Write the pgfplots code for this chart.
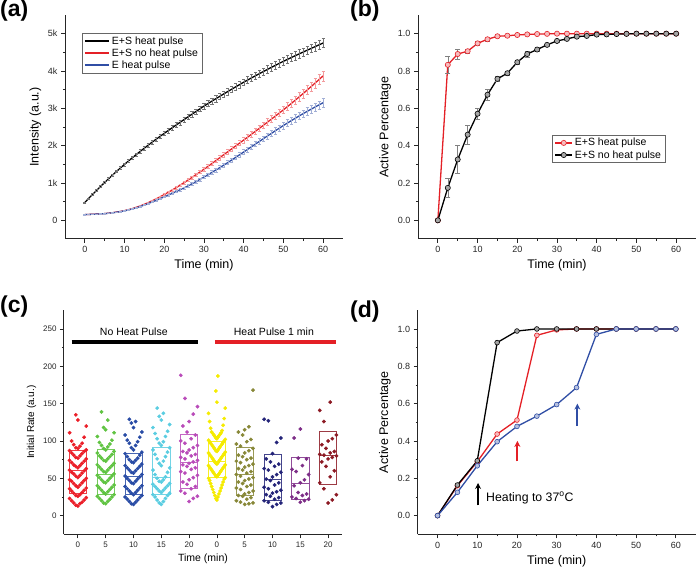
\documentclass[border=0pt]{standalone}
\usepackage{fontspec}
\setmainfont{Liberation Sans}
\usepackage{pgfplots}
\pgfplotsset{compat=1.18}
\usepackage{pgfplotstable}
\usetikzlibrary{arrows.meta}

\definecolor{cR}{RGB}{228,32,38}
\definecolor{cB}{RGB}{48,78,165}
% panel (c) groups
\definecolor{c1}{RGB}{235,30,40}
\definecolor{c2}{RGB}{95,195,65}
\definecolor{c3}{RGB}{40,75,165}
\definecolor{c4}{RGB}{90,205,225}
\definecolor{c5}{RGB}{185,75,185}
\definecolor{c6}{RGB}{245,235,0}
\definecolor{c7}{RGB}{135,135,55}
\definecolor{c8}{RGB}{35,35,120}
\definecolor{c9}{RGB}{125,45,135}
\definecolor{c10}{RGB}{140,25,35}

\pgfplotsset{
  orig/.style={
    scale only axis, width=278pt, height=224pt, anchor=south west,
    axis x line*=bottom, axis y line*=left,
    axis line style={-, line width=1pt, black!85},
    tick align=outside, major tick length=4pt, minor tick length=2.2pt,
    tick style={line width=0.8pt, black!85},
    tick label style={font=\fontsize{9}{10}\selectfont, text=black!85},
    label style={font=\fontsize{12.5}{14}\selectfont},
    /pgf/number format/assume math mode=true,
    legend cell align=left,
    legend style={draw=black!60, line width=0.6pt, font=\fontsize{10.5}{12}\selectfont,
      inner xsep=2pt, inner ysep=1pt, row sep=-1pt},
  },
  % beeswarm layout: category, index step, points per chevron, colour
  swarm/.style n args={4}{only marks, mark=*, mark size=1.7pt, color=#4,
    table/x expr={#1+(0.3/((#3-1)/2))*ceil(mod(\coordindex*#2,#3)/2)*(1-2*mod(mod(\coordindex*#2,#3),2))},
    table/y index=0, table/header=false},
  bx/.style={line width=0.7pt, mark=none},
}

% intensity traces, panel (a)
\pgfplotstableread{
t hp nhp e
0 480 155 155
1 591 158 158
2 700 162 162
3 807 167 167
4 912 173 173
5 1015 180 180
6 1116 191 190
7 1215 205 203
8 1312 221 218
9 1407 239 235
10 1500 260 255
11 1591 286 279
12 1680 316 307
13 1767 350 338
14 1852 388 372
15 1935 430 410
16 2017 476 451
17 2098 526 494
18 2177 578 538
19 2254 633 583
20 2330 690 630
21 2405 750 676
22 2479 812 723
23 2553 876 771
24 2626 942 820
25 2699 1010 870
26 2772 1080 924
27 2844 1151 980
28 2916 1223 1038
29 2988 1296 1098
30 3060 1370 1160
31 3127 1446 1222
32 3193 1523 1285
33 3258 1601 1349
34 3323 1680 1414
35 3387 1760 1480
36 3451 1838 1548
37 3514 1916 1617
38 3576 1994 1687
39 3638 2072 1758
40 3700 2150 1830
41 3759 2229 1902
42 3817 2309 1974
43 3875 2389 2046
44 3932 2469 2118
45 3988 2550 2190
46 4044 2631 2261
47 4099 2713 2331
48 4153 2795 2401
49 4207 2877 2471
50 4260 2960 2540
51 4311 3045 2606
52 4361 3132 2671
53 4411 3220 2735
54 4460 3309 2798
55 4509 3400 2860
56 4558 3492 2920
57 4606 3585 2979
58 4654 3679 3037
59 4702 3774 3094
60 4750 3870 3150
}\dataA

\begin{document}
\begin{tikzpicture}
\useasboundingbox (0pt,0pt) rectangle (697pt,570pt);

\node[anchor=base west, inner sep=0pt, font=\bfseries\fontsize{23}{26}\selectfont] at (0pt,553pt) {(a)};
\node[anchor=base west, inner sep=0pt, font=\bfseries\fontsize{23}{26}\selectfont] at (350pt,553pt) {(b)};
\node[anchor=base west, inner sep=0pt, font=\bfseries\fontsize{23}{26}\selectfont] at (0pt,257pt) {(c)};
\node[anchor=base west, inner sep=0pt, font=\bfseries\fontsize{23}{26}\selectfont] at (350pt,252pt) {(d)};

% ---------------- (a)
\begin{axis}[orig, at={(65pt,331pt)},
  xmin=-5, xmax=65, ymin=-500, ymax=5500,
  xtick={0,10,...,60}, minor x tick num=1,
  ytick={0,1000,2000,3000,4000,5000}, yticklabels={0,1k,2k,3k,4k,5k},
  minor y tick num=1, scaled y ticks=false,
  xlabel={Time (min)}, ylabel={Intensity (a.u.)},
  legend style={at={(0.06,0.918)}, anchor=north west},
  legend image code/.code={\draw[#1, line width=2pt] (0pt,0pt) -- (24pt,0pt);},
]
\addplot[black, line width=1.3pt, error bars/.cd, y dir=both, y fixed relative=0.025,
  error bar style={black!55, line width=0.4pt},
  error mark options={rotate=90, mark size=1.6pt, black!55, line width=0.4pt}]
  table[x=t, y=hp] {\dataA};
\addlegendentry{E+S heat pulse}
\addplot[cR, line width=1.3pt, error bars/.cd, y dir=both, y fixed relative=0.035,
  error bar style={cR!45, line width=0.4pt},
  error mark options={rotate=90, mark size=1.6pt, cR!45, line width=0.4pt}]
  table[x=t, y=nhp] {\dataA};
\addlegendentry{E+S no heat pulse}
\addplot[cB, line width=1.3pt, error bars/.cd, y dir=both, y fixed relative=0.035,
  error bar style={cB!45, line width=0.4pt},
  error mark options={rotate=90, mark size=1.6pt, cB!45, line width=0.4pt}]
  table[x=t, y=e] {\dataA};
\addlegendentry{E heat pulse}
\end{axis}

% ---------------- (b)
\begin{axis}[orig, at={(418pt,331pt)},
  xmin=-5, xmax=65, ymin=-0.1, ymax=1.1,
  xtick={0,10,...,60}, minor x tick num=1,
  ytick={0,0.2,0.4,0.6,0.8,1}, minor y tick num=1,
  yticklabel style={/pgf/number format/.cd, fixed, fixed zerofill, precision=1},
  xlabel={Time (min)}, ylabel={Active Percentage},
  legend style={at={(0.483,0.464)}, anchor=north west},
]
\addplot[cR, line width=1.3pt, mark=*, mark size=2.6pt, mark options={fill=cR!30, line width=0.6pt},
  error bars/.cd, y dir=both, y explicit, error bar style={gray, line width=0.5pt},
  error mark options={rotate=90, mark size=2.5pt, gray, line width=0.5pt}]
  coordinates {
  (0,0) +- (0,0) (2.5,0.833) +- (0,0.045) (5,0.891) +- (0,0.028) (7.5,0.906) +- (0,0.012)
  (10,0.948) +- (0,0.01) (12.5,0.970) +- (0,0.008) (15,0.986) +- (0,0.006) (17.5,0.989) +- (0,0.005)
  (20,0.993) +- (0,0.004) (22.5,0.996) +- (0,0.003) (25,0.998) +- (0,0.002) (27.5,0.999) +- (0,0.001)
  (30,1) +- (0,0) (32.5,1) +- (0,0) (35,1) +- (0,0) (37.5,1) +- (0,0) (40,1) +- (0,0)
  (42.5,1) +- (0,0) (45,1) +- (0,0) (47.5,1) +- (0,0) (50,1) +- (0,0) (52.5,1) +- (0,0)
  (55,1) +- (0,0) (57.5,1) +- (0,0) (60,1) +- (0,0)};
\addlegendentry{E+S heat pulse}
\addplot[black, line width=1.3pt, mark=*, mark size=2.6pt, mark options={fill=black!35, line width=0.6pt},
  error bars/.cd, y dir=both, y explicit, error bar style={gray, line width=0.5pt},
  error mark options={rotate=90, mark size=2.5pt, gray, line width=0.5pt}]
  coordinates {
  (0,0) +- (0,0) (2.5,0.174) +- (0,0.052) (5,0.326) +- (0,0.075) (7.5,0.459) +- (0,0.052)
  (10,0.571) +- (0,0.03) (12.5,0.673) +- (0,0.03) (15,0.758) +- (0,0.012) (17.5,0.788) +- (0,0.01)
  (20,0.847) +- (0,0.012) (22.5,0.891) +- (0,0.015) (25,0.915) +- (0,0.01) (27.5,0.940) +- (0,0.008)
  (30,0.961) +- (0,0.006) (32.5,0.972) +- (0,0.006) (35,0.984) +- (0,0.004) (37.5,0.988) +- (0,0.004)
  (40,0.995) +- (0,0.003) (42.5,0.996) +- (0,0.002) (45,0.998) +- (0,0.002) (47.5,0.999) +- (0,0.001)
  (50,1) +- (0,0) (52.5,1) +- (0,0) (55,1) +- (0,0) (57.5,1) +- (0,0) (60,1) +- (0,0)};
\addlegendentry{E+S no heat pulse}
\end{axis}

% ---------------- (c)
\begin{axis}[orig, at={(64pt,35.7pt)},
  xmin=0.5, xmax=10.5, ymin=-25, ymax=275,
  xtick={1,...,10}, xticklabels={0,5,10,15,20,0,5,10,15,20},
  ytick={0,50,...,250}, minor y tick num=1,
  tick label style={font=\fontsize{8}{9}\selectfont},
  xlabel={Time (min)}, ylabel={Initial Rate (a.u.)},
  xlabel style={font=\fontsize{10.5}{12}\selectfont},
  ylabel style={font=\fontsize{10}{12}\selectfont},
]
% boxes: quartiles and median
\addplot[bx, c1!85] coordinates {(0.69,30) (1.31,30) (1.31,87) (0.69,87)} -- cycle;
\addplot[bx, c1!85] coordinates {(0.69,61) (1.31,61)};
\addplot[bx, c2!85] coordinates {(1.69,28.6) (2.31,28.6) (2.31,89) (1.69,89)} -- cycle;
\addplot[bx, c2!85] coordinates {(1.69,55) (2.31,55)};
\addplot[bx, c3!85] coordinates {(2.69,28.6) (3.31,28.6) (3.31,83) (2.69,83)} -- cycle;
\addplot[bx, c3!85] coordinates {(2.69,52.6) (3.31,52.6)};
\addplot[bx, c4!85] coordinates {(3.69,28.6) (4.31,28.6) (4.31,91.4) (3.69,91.4)} -- cycle;
\addplot[bx, c4!85] coordinates {(3.69,51) (4.31,51)};
\addplot[bx, c5!85] coordinates {(4.69,36.6) (5.31,36.6) (5.31,108.8) (4.69,108.8)} -- cycle;
\addplot[bx, c5!85] coordinates {(4.69,71.4) (5.31,71.4)};
\addplot[bx, c6!85] coordinates {(5.69,51) (6.31,51) (6.31,100) (5.69,100)} -- cycle;
\addplot[bx, c6!85] coordinates {(5.69,73) (6.31,73)};
\addplot[bx, c7!85] coordinates {(6.69,26.8) (7.31,26.8) (7.31,91) (6.69,91)} -- cycle;
\addplot[bx, c7!85] coordinates {(6.69,55.3) (7.31,55.3)};
\addplot[bx, c8!85] coordinates {(7.69,20) (8.31,20) (8.31,82) (7.69,82)} -- cycle;
\addplot[bx, c8!85] coordinates {(7.69,49) (8.31,49)};
\addplot[bx, c9!85] coordinates {(8.69,22.3) (9.31,22.3) (9.31,77.6) (8.69,77.6)} -- cycle;
\addplot[bx, c9!85] coordinates {(8.69,43.3) (9.31,43.3)};
\addplot[bx, c10!85] coordinates {(9.69,42) (10.31,42) (10.31,112.3) (9.69,112.3)} -- cycle;
\addplot[bx, c10!85] coordinates {(9.69,81) (10.31,81)};

\addplot[swarm={1}{1}{9}{c1}] table[row sep=\\] {13\\14\\16\\17\\18\\20\\21\\23\\24\\26\\27\\28\\30\\31\\33\\34\\36\\37\\38\\40\\41\\43\\44\\46\\47\\48\\50\\51\\53\\54\\56\\57\\58\\60\\61\\63\\64\\66\\67\\68\\70\\71\\73\\74\\76\\77\\78\\80\\81\\83\\84\\86\\87\\88\\90\\91\\93\\95\\97\\100\\105\\111\\120\\128\\135\\};
\addplot[swarm={2}{1}{9}{c2}] table[row sep=\\] {16\\17\\19\\20\\22\\23\\25\\26\\28\\29\\31\\32\\34\\35\\37\\38\\40\\41\\44\\45\\47\\48\\50\\51\\53\\54\\56\\58\\59\\61\\62\\64\\65\\67\\68\\70\\73\\74\\76\\77\\79\\80\\82\\84\\86\\88\\90\\92\\94\\96\\98\\101\\106\\111\\115\\118\\128\\139\\};
\addplot[swarm={3}{1}{9}{c3}] table[row sep=\\] {15\\16\\18\\19\\21\\22\\24\\25\\27\\28\\30\\31\\33\\34\\36\\37\\39\\40\\43\\44\\46\\47\\49\\50\\52\\53\\55\\57\\58\\60\\61\\63\\64\\66\\67\\69\\71\\72\\74\\75\\77\\79\\81\\83\\85\\88\\91\\94\\97\\99\\101\\105\\108\\112\\118\\124\\126\\129\\};
\addplot[swarm={4}{1}{9}{c4}] table[row sep=\\] {15\\17\\19\\21\\23\\25\\27\\28\\30\\31\\33\\34\\36\\37\\39\\40\\42\\43\\45\\46\\48\\50\\52\\55\\58\\61\\64\\67\\70\\73\\76\\79\\82\\85\\88\\91\\94\\97\\99\\103\\106\\110\\113\\118\\122\\128\\133\\137\\144\\};
\addplot[swarm={5}{4}{9}{c5}] table[row sep=\\] {19\\23\\26\\30\\33\\36\\39\\42\\45\\48\\51\\54\\57\\59\\62\\64\\66\\68\\70\\72\\74\\76\\78\\80\\82\\84\\86\\88\\91\\94\\97\\100\\103\\108\\112\\120\\126\\136\\146\\157\\188\\};
\addplot[swarm={6}{1}{17}{c6}] table[row sep=\\] {21\\23\\25\\27\\29\\31\\33\\35\\37\\39\\41\\43\\45\\47\\49\\50\\51\\52\\53\\54\\55\\56\\57\\58\\59\\60\\61\\62\\63\\64\\65\\66\\67\\68\\69\\70\\71\\72\\73\\74\\75\\76\\77\\78\\79\\80\\81\\82\\83\\84\\85\\86\\87\\88\\89\\90\\91\\92\\93\\94\\95\\96\\97\\98\\99\\100\\101\\102\\103\\104\\105\\106\\107\\108\\109\\110\\111\\112\\114\\117\\121\\126\\130\\137\\144\\152\\167\\187\\};
\addplot[swarm={7}{4}{9}{c7}] table[row sep=\\] {15\\16\\17\\18\\20\\22\\24\\26\\27\\29\\31\\33\\35\\37\\39\\41\\43\\45\\47\\49\\51\\53\\55\\57\\59\\61\\63\\65\\67\\69\\71\\73\\75\\77\\79\\81\\84\\87\\90\\93\\96\\99\\102\\108\\112\\115\\119\\168\\};
\addplot[swarm={8}{4}{9}{c8}] table[row sep=\\] {12\\15\\17\\18\\20\\22\\24\\26\\28\\30\\32\\34\\36\\38\\41\\44\\47\\49\\52\\55\\58\\61\\63\\66\\69\\72\\76\\83\\98\\104\\127\\129\\};
\addplot[swarm={9}{4}{9}{c9}] table[row sep=\\] {18\\20\\22\\23\\25\\27\\29\\31\\40\\44\\48\\55\\59\\62\\67\\76\\77\\104\\116\\};
\addplot[swarm={10}{4}{9}{c10}] table[row sep=\\] {17\\21\\28\\36\\44\\52\\60\\66\\72\\76\\78\\80\\81\\82\\84\\86\\90\\95\\100\\103\\108\\126\\141\\152\\};

\addplot[black, line width=3.3pt] coordinates {(0.77,232.5) (5.33,232.5)};
\addplot[cR, line width=3.3pt] coordinates {(5.93,232.5) (10.29,232.5)};
\node[font=\fontsize{10.5}{12}\selectfont] at (axis cs:3.01,246) {No Heat Pulse};
\node[font=\fontsize{10.5}{12}\selectfont] at (axis cs:8.05,246) {Heat Pulse 1 min};
\end{axis}

% ---------------- (d)
\begin{axis}[orig, at={(417.7pt,35.7pt)},
  xmin=-5, xmax=65, ymin=-0.1, ymax=1.1,
  xtick={0,10,...,60}, minor x tick num=1,
  ytick={0,0.2,0.4,0.6,0.8,1}, minor y tick num=1,
  yticklabel style={/pgf/number format/.cd, fixed, fixed zerofill, precision=1},
  xlabel={Time (min)}, ylabel={Active Percentage},
]
\addplot[cR, line width=1.3pt, mark=*, mark size=2.4pt, mark options={fill=cR!30, line width=0.6pt}]
  coordinates {(0,0) (5,0.16) (10,0.289) (15,0.437) (20,0.512) (25,0.966) (30,0.995) (35,1) (40,1) (45,1) (50,1) (55,1) (60,1)};
\addplot[black, line width=1.3pt, mark=*, mark size=2.4pt, mark options={fill=black!35, line width=0.6pt}]
  coordinates {(0,0) (5,0.164) (10,0.294) (15,0.927) (20,0.989) (25,1) (30,1) (35,1) (40,1) (45,1) (50,1) (55,1) (60,1)};
\addplot[cB, line width=1.3pt, mark=*, mark size=2.4pt, mark options={fill=cB!35, line width=0.6pt}]
  coordinates {(0,0) (5,0.125) (10,0.267) (15,0.396) (20,0.478) (25,0.533) (30,0.595) (35,0.686) (40,0.971) (45,1) (50,1) (55,1) (60,1)};
\draw[-{Stealth[length=6pt,width=6pt]}, line width=2pt, black] (axis cs:10.2,0.055) -- (axis cs:10.2,0.175);
\draw[-{Stealth[length=6pt,width=6pt]}, line width=2pt, cR] (axis cs:20.1,0.29) -- (axis cs:20.1,0.40);
\draw[-{Stealth[length=6pt,width=6pt]}, line width=2pt, cB] (axis cs:35.2,0.48) -- (axis cs:35.2,0.60);
\node[anchor=base west, inner sep=0pt, font=\fontsize{12.3}{14}\selectfont] at (axis cs:12.2,0.078) {Heating to 37\textsuperscript{o}C};
\end{axis}
\end{tikzpicture}
\end{document}
